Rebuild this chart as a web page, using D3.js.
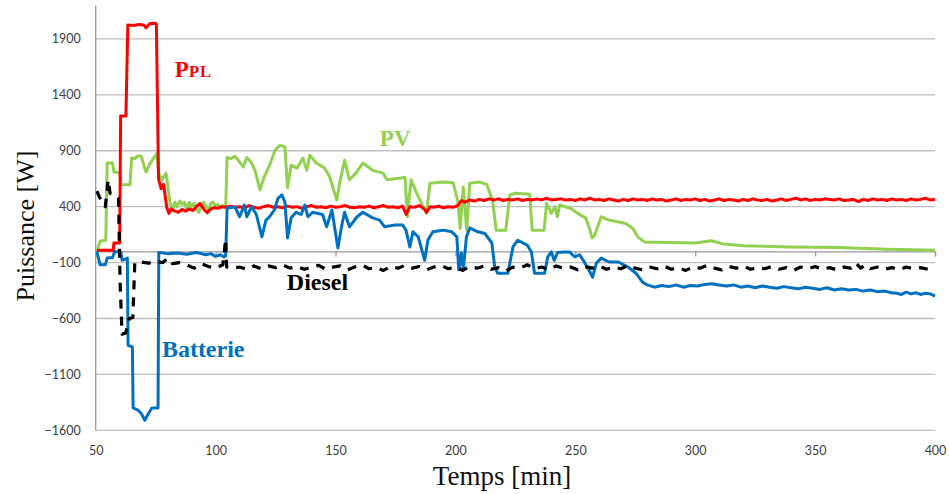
<!DOCTYPE html>
<html>
<head>
<meta charset="utf-8">
<script src="https://cdn.jsdelivr.net/npm/d3@7"></script>
<style>
  html, body { margin: 0; padding: 0; background: #ffffff; }
  svg { display: block; }
</style>
</head>
<body>
<svg id="chart" width="949" height="494"></svg>
<script>
// ---------------- DATA ----------------
const xTicks = [50, 100, 150, 200, 250, 300, 350, 400];
const yTicks = [-1600, -1100, -600, -100, 400, 900, 1400, 1900];

// [time (min), power (W)]
const pplData = [
  [50.5,10],[57.3,10],[57.6,75],[60.0,75],[60.4,1210],[62.6,1210],[63.4,2025],[66,2020],[68,2030],[70,2025],[71,2000],
  [72.5,2035],[74,2040],[75.3,2035],[76.2,650],[77.3,560],[78.3,600],[79.6,400],[80.5,340],[81.5,380],[83,360],[84.5,350],
  [86,375],[87.5,360],[89,380],[90.5,365],[92,400],[93.5,430],[95,380],[96.5,345],[98,380],[99.5,390],[101,385],[102.5,400],
  [104,395],[106,405],[108,395],[110,400],[112,390],[114,410],[116,395],[118,385],[120,400],[122,410],[124,395],[126,400],
  [128,390],[130,405],[132,395],[134,400],[136,385],[138,400],[140,410],[142,395],[144,400],[146,390],[148,405],[150,395],
  [152,400],[154,410],[156,395],[158,390],[160,400],[162,395],[164,405],[166,390],[168,400],[170,410],[172,395],[174,400],
  [176,390],[178,405],[179.5,330],[181,400],[183,395],[185,410],[187,380],[188,350],[189.5,400],[191,395],[193,405],[195,390],
  [197,400],[199,395],[201,410],[202.5,455],[204,440],[206,460],[208,450],[210,465],[212,455],[214,470],[216,460],[218,470],
  [220,455],[222,465],[224,460],[226,470],[228,455],[230,465],[232,460],[234,470],[236,460],[238,475],[240,460],[242,465],
  [244,470],[246,460],[248,465],[250,455],[252,470],[254,460],[256,475],[258,460],[260,465],[262,455],[264,470],[266,460],
  [268,450],[270,465],[272,455],[274,470],[276,460],[278,465],[280,455],[282,470],[284,460],[286,465],[288,450],[290,460],
  [292,470],[294,455],[296,465],[298,460],[300,470],[302,455],[304,465],[306,450],[308,460],[310,470],[312,455],[314,465],
  [316,460],[318,450],[320,465],[322,455],[324,470],[326,460],[328,455],[330,465],[332,450],[334,460],[336,470],[338,455],
  [340,465],[342,475],[344,460],[346,470],[348,455],[350,465],[352,460],[354,470],[356,465],[358,460],[360,470],[362,455],
  [364,460],[366,465],[368,445],[370,465],[372,455],[374,470],[376,460],[378,465],[380,455],[382,470],[384,460],[386,465],
  [388,455],[390,470],[392,460],[394,465],[396,475],[398,460],[400,465]
];

const pvData = [
  [50.5,0],[51.8,90],[54.2,100],[54.8,790],[57,790],[57.6,710],[60,705],[60.5,595],[64.3,595],[65,835],[66.5,830],[67.5,855],
  [69,850],[70.2,760],[71,710],[72.5,780],[74,830],[75.5,875],[76.3,700],[77.7,640],[79.3,700],[80.2,560],[81,430],[82,370],
  [83,440],[84,400],[85,450],[86,420],[87,440],[88,380],[89,440],[90,400],[91,430],[92,380],[93,350],[94,410],[95,440],
  [96,400],[97,370],[98,430],[99,440],[100,400],[101,420],[102,390],[103,410],[104.2,400],[104.8,840],[106.5,830],[108,850],
  [109.5,815],[111.5,755],[113,840],[115,790],[116.5,720],[118.5,550],[120,650],[121,700],[122.5,770],[124.8,905],[126.8,950],
  [128.9,935],[130,570],[131.5,770],[134,745],[136.4,835],[138,725],[139.3,860],[142,790],[145.5,745],[147.6,665],[150.5,460],
  [152,640],[153.8,815],[155.8,640],[158.5,700],[161.4,790],[165.5,725],[169.8,700],[171.5,640],[175,650],[179,660],[180,310],
  [181.5,640],[184.5,490],[188,340],[189.4,610],[195,620],[199,615],[201,450],[202,205],[203.3,575],[204.7,190],[206,610],
  [210,620],[213,600],[215.5,460],[217,190],[221,190],[222.7,505],[225,520],[231,510],[232,190],[237,190],[238,430],[240,340],
  [241.5,400],[242.5,310],[243.5,415],[248,385],[251,340],[254.3,300],[256,200],[257,120],[258,140],[260.8,310],[264,280],
  [271,250],[274,205],[276,130],[278.8,85],[290,80],[300,75],[306.8,95],[312,65],[320,50],[340,40],[360,35],[380,20],[400,10]
];

const batterieData = [
  [50.5,0],[51.8,-120],[54,-120],[54.8,-60],[57,-55],[58,0],[60.5,-10],[61,-80],[63.2,-60],[63.5,-840],[65.3,-855],
  [65.6,-1400],[67.6,-1420],[69,-1450],[70.5,-1510],[72,-1450],[73.4,-1400],[76,-1400],[76.3,-10],[80,-20],[84,-15],[88,-25],
  [92,-10],[96,-30],[98,-20],[100,-45],[102,-30],[103.5,-50],[104.2,-40],[104.8,390],[106,390],[108,400],[110,310],[112,415],
  [113,310],[115,400],[117,330],[119.3,130],[121,280],[122.5,310],[124.5,370],[126,475],[127.6,505],[128.9,440],[130,120],
  [131.5,300],[133.6,350],[135.7,330],[137.2,415],[138.5,310],[140.5,350],[144.6,330],[146.3,220],[148.5,370],[149.6,220],
  [151,30],[152.5,220],[153.8,350],[155.8,220],[159,310],[161.4,350],[165.5,300],[168.4,280],[170.5,220],[174.5,235],[178,235],
  [179.4,190],[181,40],[182.3,175],[184.5,130],[187.2,-80],[188.5,100],[190.6,175],[194.8,190],[198.5,175],[200.6,130],
  [201.4,-165],[202.5,-15],[203.3,-165],[204.6,130],[206,210],[209.3,175],[212.3,160],[215.2,75],[216.4,-140],[217.6,-195],
  [221.9,-195],[224,40],[226,100],[230,55],[231.7,-5],[233,-195],[237.2,-195],[238.5,-50],[240,-5],[241.2,-80],[242.6,-10],
  [245.6,-5],[247.6,-5],[249.8,-50],[251.8,-30],[253.3,-80],[255.5,-160],[257.2,-230],[258.8,-105],[260.8,-60],[264,-95],
  [268,-95],[272,-140],[275.3,-195],[278,-275],[280,-300],[283,-320],[286,-305],[289,-315],[292,-300],[295,-320],[298,-305],
  [301,-310],[304,-295],[307,-290],[310,-300],[313,-310],[316,-300],[319,-320],[322,-310],[325,-325],[328,-310],[331,-320],
  [334,-330],[337,-315],[340,-325],[343,-335],[346,-320],[349,-330],[352,-340],[355,-325],[358,-345],[361,-335],[364,-345],
  [367,-340],[370,-355],[373,-345],[376,-360],[379,-355],[382,-370],[384,-375],[386,-385],[388,-365],[390,-380],[392,-370],
  [394,-385],[396,-375],[398,-380],[400,-400]
];

const dieselData = [
  [50.5,540],[51.5,490],[53,420],[54,400],[55.2,640],[56,520],[57.5,500],[59.5,480],[60.2,-300],[61,-740],[62.5,-730],
  [64,-600],[65.5,-590],[66.3,-100],[69,-95],[72,-105],[75,-90],[78,-100],[80,-60],[82,-110],[85,-100],[88,-120],[91,-150],
  [94,-110],[97,-135],[100,-150],[103,-120],[104.2,110],[104.6,-140],[107,-150],[110,-140],[113,-160],[116,-130],[119,-155],
  [122,-130],[125,-145],[128,-120],[131,-150],[134,-135],[137,-160],[140,-140],[143,-125],[146,-160],[149,-140],[152,-130],
  [155,-165],[158,-140],[161,-120],[164,-155],[167,-145],[170,-170],[173,-135],[176,-150],[179,-125],[182,-150],[185,-135],
  [188,-165],[191,-140],[194,-125],[197,-155],[200,-140],[203,-170],[206,-135],[209,-150],[212,-130],[215,-160],[218,-145],
  [221,-175],[224,-140],[227,-150],[230,-120],[233,-155],[236,-140],[239,-165],[242,-130],[245,-150],[248,-140],[251,-165],
  [254,-135],[257,-150],[260,-130],[263,-160],[266,-140],[269,-155],[272,-125],[275,-150],[278,-165],[281,-140],[284,-155],
  [287,-130],[290,-160],[293,-145],[296,-170],[299,-140],[302,-150],[305,-125],[308,-150],[311,-165],[314,-135],[317,-150],
  [320,-130],[323,-160],[326,-145],[329,-155],[332,-135],[335,-160],[338,-145],[341,-170],[344,-140],[347,-155],[350,-135],
  [353,-160],[356,-145],[359,-165],[362,-140],[365,-150],[367,-105],[369,-150],[371,-120],[373,-155],[376,-140],[379,-160],
  [382,-145],[385,-165],[388,-140],[391,-155],[394,-145],[397,-160],[400,-140]
];

// annotation labels: [text, time, value]
const labels = [
  {name: "ppl", t: 83, v: 1560},
  {name: "PV", t: 168.5, v: 943},
  {name: "Diesel", t: 79.7 + 50, v: -345},
  {name: "Batterie", t: 77.6, v: -944}
];

// ---------------- CHART ----------------
const svg = d3.select("#chart");
const x = d3.scaleLinear().domain([50, 400]).range([95.7, 935]);
const y = d3.scaleLinear().domain([-1600, 2200]).range([430.3, 5.4]);

const gridColor = "#c0c0c0";
const axisColor = "#9a9a9a";
const tickFont = "Lato, 'Open Sans', 'Liberation Sans', sans-serif";
const serif = "'Liberation Serif', 'DejaVu Serif', serif";

// horizontal gridlines
svg.append("g").selectAll("line").data(yTicks).join("line")
  .attr("x1", x(50)).attr("x2", x(400))
  .attr("y1", d => y(d)).attr("y2", d => y(d))
  .attr("stroke", gridColor).attr("stroke-width", 1.3);

// y axis (left), labels only
const yAxis = d3.axisLeft(y).tickValues(yTicks).tickSize(0).tickPadding(15).tickFormat(d3.format("d"));
const gy = svg.append("g").attr("transform", `translate(${x(50)},0)`).call(yAxis);
gy.select(".domain").remove();
gy.selectAll("text").attr("font-family", tickFont).attr("font-size", 12.5).attr("fill", "#404040");
svg.append("line").attr("x1", x(50)).attr("x2", x(50)).attr("y1", y(2200)).attr("y2", y(-1600))
  .attr("stroke", axisColor).attr("stroke-width", 1.3);

// x axis line at value 0 with downward ticks
const xAxis = d3.axisBottom(x).tickValues(xTicks).tickSize(5).tickFormat("");
const gx = svg.append("g").attr("transform", `translate(0,${y(0)})`).call(xAxis);
gx.select(".domain").attr("stroke", axisColor).attr("stroke-width", 1.3);
gx.selectAll(".tick line").attr("stroke", axisColor).attr("stroke-width", 1.3);

// x tick labels at bottom of plot
const xLab = d3.axisBottom(x).tickValues(xTicks).tickSize(0).tickPadding(16).tickFormat(d3.format("d"));
const gxl = svg.append("g").attr("transform", `translate(0,${y(-1600)})`).call(xLab);
gxl.select(".domain").remove();
gxl.selectAll("text").attr("font-family", tickFont).attr("font-size", 12.5).attr("fill", "#404040");

// axis titles
svg.append("text").attr("x", 502).attr("y", 485).attr("text-anchor", "middle")
  .attr("font-family", serif).attr("font-size", 27).attr("fill", "#111").text("Temps [min]");
svg.append("text").attr("transform", "translate(34,226) rotate(-90)").attr("text-anchor", "middle")
  .attr("font-family", serif).attr("font-size", 26).attr("fill", "#111").text("Puissance [W]");

// series
const line = d3.line().x(d => x(d[0])).y(d => y(d[1]));
function draw(data, color, dash) {
  const p = svg.append("path").datum(data).attr("d", line)
    .attr("fill", "none").attr("stroke", color).attr("stroke-width", 3)
    .attr("stroke-linejoin", "round");
  if (dash) p.attr("stroke-dasharray", dash).attr("stroke-width", 3.2);
  return p;
}
draw(pvData, "#92D050");
draw(pplData, "#FF0000");
draw(batterieData, "#0070C0");
draw(dieselData, "#000000", "9,8");

// annotations
const lab = Object.fromEntries(labels.map(l => [l.name, l]));
const tP = svg.append("text").attr("x", x(lab.ppl.t)).attr("y", y(lab.ppl.v))
  .attr("font-family", serif).attr("font-weight", "bold").attr("fill", "#FF0000");
tP.append("tspan").attr("font-size", 23).text("P");
tP.append("tspan").attr("font-size", 16.5).attr("letter-spacing", 1).text("PL");

svg.append("text").attr("x", x(lab.PV.t)).attr("y", y(lab.PV.v))
  .attr("font-family", serif).attr("font-weight", "bold").attr("font-size", 23).attr("fill", "#92D050").text("PV");
svg.append("text").attr("x", x(lab.Diesel.t)).attr("y", y(lab.Diesel.v))
  .attr("font-family", serif).attr("font-weight", "bold").attr("font-size", 24).attr("fill", "#000").text("Diesel");
svg.append("text").attr("x", x(lab.Batterie.t)).attr("y", y(lab.Batterie.v))
  .attr("font-family", serif).attr("font-weight", "bold").attr("font-size", 24).attr("fill", "#0070C0").text("Batterie");
</script>
</body>
</html>
